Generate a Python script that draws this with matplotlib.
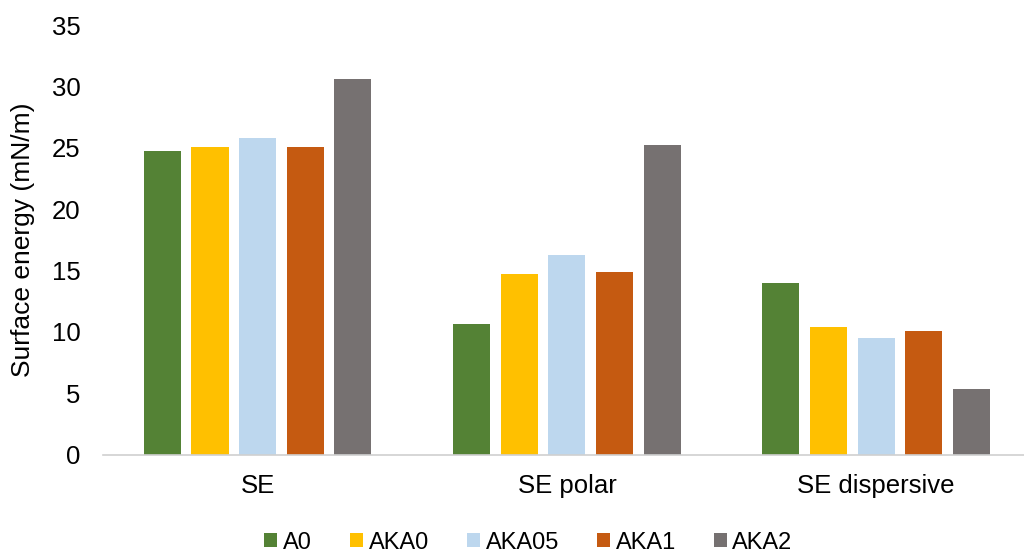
import numpy as np
import matplotlib.pyplot as plt

plt.rcParams['font.family'] = ['Liberation Sans', 'DejaVu Sans']

categories = ['SE', 'SE polar', 'SE dispersive']
series = ['A0', 'AKA0', 'AKA05', 'AKA1', 'AKA2']
values = {
    'A0':    [24.7, 10.65, 14.0],
    'AKA0':  [25.1, 14.7, 10.4],
    'AKA05': [25.8, 16.25, 9.5],
    'AKA1':  [25.05, 14.9, 10.1],
    'AKA2':  [30.6, 25.25, 5.3],
}
colors = ['#548235', '#FFC000', '#BDD7EE', '#C55A11', '#767171']

fig = plt.figure(figsize=(10.24, 5.57), dpi=100)
ax = fig.add_axes([0.1006, 0.184, 0.906, 0.771])

x = np.arange(len(categories))
pitch = 0.154
width = 0.12
for i, (name, c) in enumerate(zip(series, colors)):
    ax.bar(x + (i - 2) * pitch, values[name], width, color=c, label=name, zorder=2)

ax.set_xlim(-0.5, 2.5)
ax.set_ylim(0, 35)
ax.set_yticks(range(0, 36, 5))
ax.set_xticks(x)
ax.set_xticklabels(categories)
ax.tick_params(axis='both', length=0, labelsize=18.5, colors='#000000')
ax.tick_params(axis='y', pad=16)
ax.tick_params(axis='x', pad=14)
for s in ['top', 'right', 'left']:
    ax.spines[s].set_visible(False)
ax.spines['bottom'].set_color('#D0D0D0')
ax.spines['bottom'].set_linewidth(1.2)

ax.set_ylabel('Surface energy (mN/m)', fontsize=19, labelpad=12)

fig.legend(loc='center', bbox_to_anchor=(0.516, 0.026), ncol=5, frameon=False,
           fontsize=17, handlelength=0.55, handleheight=0.55, handletextpad=0.25,
           columnspacing=1.6)

fig.savefig('out.png', dpi=100)
